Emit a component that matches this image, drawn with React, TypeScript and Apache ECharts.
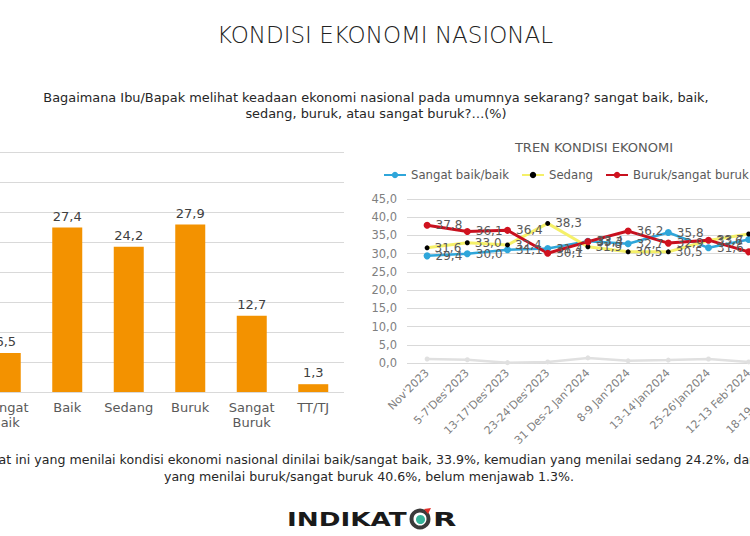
import React, { useEffect, useRef } from "react";
import * as echarts from "echarts";

const barCategories = ["Sangat\nBaik", "Baik", "Sedang", "Buruk", "Sangat\nBuruk", "TT/TJ"];
const barValues = [6.5, 27.4, 24.2, 27.9, 12.7, 1.3];

const trendDates = [
  "Nov'2023",
  "5-7'Des'2023",
  "13-17'Des'2023",
  "23-24'Des'2023",
  "31 Des-2 Jan'2024",
  "8-9 Jan'2024",
  "13-14'Jan2024",
  "25-26'Jan2024",
  "12-13 Feb'2024",
  "18-19 Feb'2024",
];
const baikValues = [29.4, 30.0, 31.1, 31.4, 33.4, 32.7, 35.8, 31.6, 33.9, 33.9];
const sedangValues = [31.6, 33.0, 32.4, 38.3, 31.9, 30.5, 30.5, 33.6, 35.4, 24.2];
const burukValues = [37.8, 36.1, 36.4, 30.1, 33.3, 36.2, 32.9, 33.7, 30.5, 40.6];
const ttValues = [1.1, 0.9, 0.1, 0.3, 1.4, 0.6, 0.8, 1.1, 0.3, 1.3];

const trendYTicks = [0, 5, 10, 15, 20, 25, 30, 35, 40, 45];

const FONT = "'DejaVu Sans', sans-serif";
const fmt = (v: number) => v.toFixed(1).replace(".", ",");
const OX = 40; // chart canvas starts 40px left of the page

export default function App() {
  const ref = useRef<HTMLDivElement>(null);
  useEffect(() => {
    if (!ref.current) return;
    const chart = echarts.init(ref.current, undefined, { renderer: "svg" });
    const lineLabel = {
      show: true,
      position: "right" as const,
      distance: 5,
      fontSize: 12,
      fontFamily: FONT,
      color: "#595959",
      formatter: (p: any) => fmt(p.value),
    };
    const txt = (x: number, y: number, text: string, fontSize: number, extra: any = {}) => ({
      type: "text",
      x: x + OX,
      y,
      style: {
        text,
        fontSize,
        fontFamily: FONT,
        fill: "#262626",
        align: "center",
        verticalAlign: "middle",
        ...extra,
      },
    });
    chart.setOption({
      animation: false,
      textStyle: { fontFamily: FONT },
      legend: {
        left: 383 + OX,
        top: 169,
        padding: 0,
        itemWidth: 22,
        itemHeight: 8,
        itemGap: 12,
        textStyle: { fontSize: 11.7, color: "#595959", fontFamily: FONT },
        data: ["Sangat baik/baik", "Sedang", "Buruk/sangat buruk"],
      },
      grid: [
        { left: -25 + OX, top: 152, width: 369, height: 240 },
        { left: 407 + OX, top: 199, width: 402, height: 164 },
      ],
      xAxis: [
        {
          gridIndex: 0,
          type: "category",
          data: barCategories,
          axisLine: { show: false },
          axisTick: { show: false },
          axisLabel: {
            interval: 0,
            color: "#595959",
            fontSize: 13,
            lineHeight: 15,
            margin: 8,
            fontFamily: FONT,
          },
        },
        {
          gridIndex: 1,
          type: "category",
          data: trendDates,
          axisLine: { show: false },
          axisTick: { show: false },
          axisLabel: { interval: 0, color: "#7f7f7f", fontSize: 11, rotate: 45, margin: 8, fontFamily: FONT },
        },
      ],
      yAxis: [
        {
          gridIndex: 0,
          type: "value",
          min: 0,
          max: 40,
          interval: 5,
          axisLabel: { show: false },
          axisLine: { show: false },
          axisTick: { show: false },
          splitLine: { lineStyle: { color: "#d9d9d9", width: 1 } },
        },
        {
          gridIndex: 1,
          type: "value",
          min: trendYTicks[0],
          max: trendYTicks[trendYTicks.length - 1],
          interval: 5,
          axisLabel: {
            color: "#7f7f7f",
            fontSize: 11.5,
            margin: 10,
            fontFamily: FONT,
            formatter: (v: number) => fmt(v),
          },
          axisLine: { show: false },
          axisTick: { show: false },
          splitLine: { lineStyle: { color: "#d9d9d9", width: 1 } },
        },
      ],
      series: [
        {
          type: "bar",
          xAxisIndex: 0,
          yAxisIndex: 0,
          data: barValues,
          barWidth: 30,
          itemStyle: { color: "#f39200" },
          label: {
            show: true,
            position: "top",
            distance: 5,
            color: "#404040",
            fontSize: 13,
            fontFamily: FONT,
            formatter: (p: any) => fmt(p.value),
          },
        },
        {
          name: "TT/TJ",
          type: "line",
          xAxisIndex: 1,
          yAxisIndex: 1,
          data: ttValues,
          symbol: "circle",
          symbolSize: 5,
          lineStyle: { color: "#e0e0e0", width: 2.5 },
          itemStyle: { color: "#e0e0e0" },
          label: { show: false },
        },
        {
          name: "Sangat baik/baik",
          type: "line",
          xAxisIndex: 1,
          yAxisIndex: 1,
          data: baikValues,
          symbol: "circle",
          symbolSize: 7,
          lineStyle: { color: "#2fa6da", width: 2.5 },
          itemStyle: { color: "#2fa6da" },
          label: lineLabel,
        },
        {
          name: "Sedang",
          type: "line",
          xAxisIndex: 1,
          yAxisIndex: 1,
          data: sedangValues,
          symbol: "circle",
          symbolSize: 5,
          lineStyle: { color: "#f5f069", width: 3 },
          itemStyle: { color: "#000000" },
          label: lineLabel,
        },
        {
          name: "Buruk/sangat buruk",
          type: "line",
          xAxisIndex: 1,
          yAxisIndex: 1,
          data: burukValues,
          symbol: "circle",
          symbolSize: 7,
          lineStyle: { color: "#c8101e", width: 3 },
          itemStyle: { color: "#d0121f" },
          label: lineLabel,
        },
      ],
      graphic: [
        txt(385, 35, "KONDISI EKONOMI NASIONAL", 23, { fontWeight: 300, fill: "#222222" }),
        txt(
          376,
          97,
          "Bagaimana Ibu/Bapak melihat keadaan ekonomi nasional pada umumnya sekarang? sangat baik, baik,",
          12.9
        ),
        txt(376, 113, "sedang, buruk, atau sangat buruk?…(%)", 12.9),
        txt(594, 147, "TREN KONDISI EKONOMI", 13, { fill: "#595959" }),
        txt(
          370,
          459,
          "Saat ini yang menilai kondisi ekonomi nasional dinilai baik/sangat baik, 33.9%, kemudian yang menilai sedang 24.2%, dan",
          12.6
        ),
        txt(369, 476, "yang menilai buruk/sangat buruk 40.6%, belum menjawab 1.3%.", 12.6),
        {
          type: "text",
          x: 287 + OX,
          y: 519,
          scaleX: 1.38,
          style: {
            text: "INDIKAT",
            fontSize: 19,
            fontWeight: "bold",
            fontFamily: FONT,
            fill: "#1a1a1a",
            align: "left",
            verticalAlign: "middle",
          },
        },
        {
          type: "circle",
          shape: { cx: 420 + OX, cy: 519, r: 8.5 },
          style: { fill: "none", stroke: "#3a3a3a", lineWidth: 4 },
        },
        {
          type: "circle",
          shape: { cx: 420.5 + OX, cy: 519.5, r: 4.5 },
          style: { fill: "#35b39a" },
        },
        {
          type: "polygon",
          shape: { points: [[424 + OX, 509], [431 + OX, 508], [428 + OX, 514]] },
          style: { fill: "#e0302a" },
        },
        {
          type: "text",
          x: 433 + OX,
          y: 519,
          scaleX: 1.6,
          style: {
            text: "R",
            fontSize: 19,
            fontWeight: "bold",
            fontFamily: FONT,
            fill: "#1a1a1a",
            align: "left",
            verticalAlign: "middle",
          },
        },
      ],
    });
    return () => chart.dispose();
  }, []);
  return (
    <div
      style={{
        position: "absolute",
        left: 0,
        top: 0,
        width: 750,
        height: 536,
        overflow: "hidden",
        background: "#ffffff",
      }}
    >
      <div
        ref={ref}
        style={{ position: "absolute", left: -OX, top: 0, width: 880, height: 536 }}
      />
    </div>
  );
}
